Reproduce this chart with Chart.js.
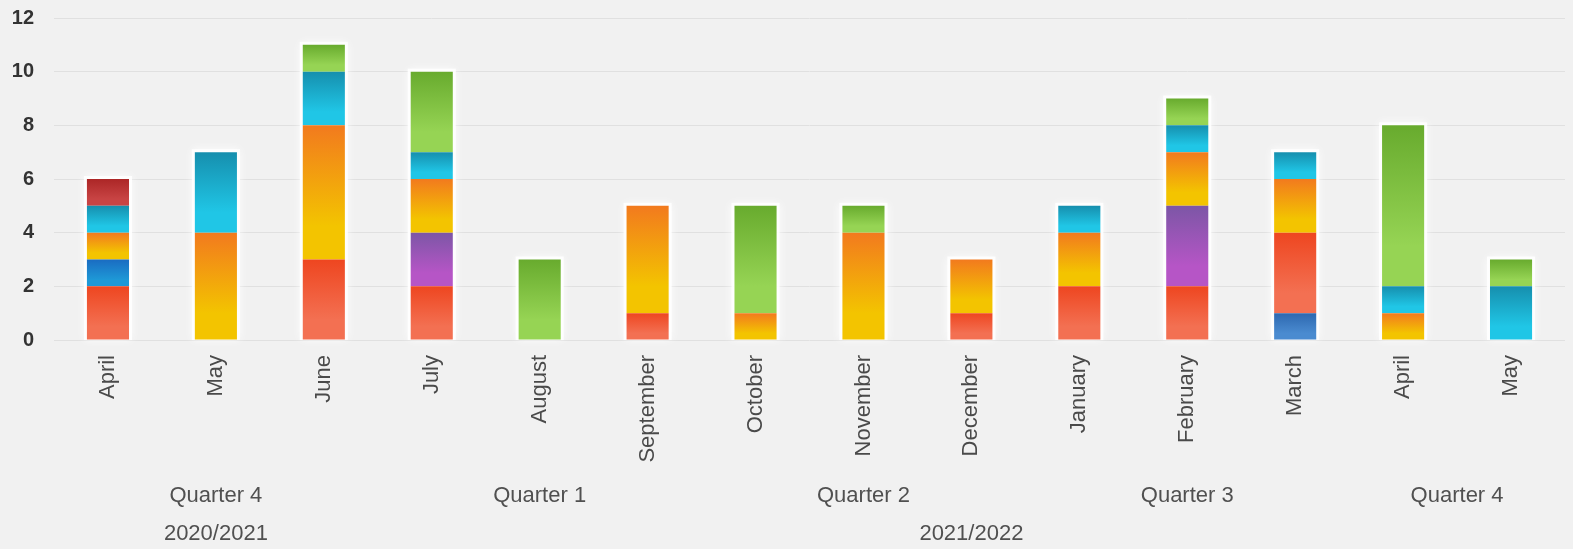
<!DOCTYPE html>
<html>
<head>
<meta charset="utf-8">
<title>Monthly totals</title>
<script src="https://cdn.jsdelivr.net/npm/chart.js@4.4.0/dist/chart.umd.min.js"></script>
<style>
    html, body { margin: 0; padding: 0; background: #f1f1f1; }
    #wrap { position: relative; width: 1573px; height: 549px; }
</style>
</head>
<body>
<div id="wrap"><canvas id="monthChart"></canvas></div>
<script>
// Categories
const months = ['April', 'May', 'June', 'July', 'August', 'September', 'October',
    'November', 'December', 'January', 'February', 'March', 'April', 'May'];
const monthQuarter = ['Quarter 4', 'Quarter 4', 'Quarter 4', 'Quarter 1', 'Quarter 1', 'Quarter 1',
    'Quarter 2', 'Quarter 2', 'Quarter 2', 'Quarter 3', 'Quarter 3', 'Quarter 3', 'Quarter 4', 'Quarter 4'];
const monthYear = ['2020/2021', '2020/2021', '2020/2021', '2021/2022', '2021/2022', '2021/2022', '2021/2022',
    '2021/2022', '2021/2022', '2021/2022', '2021/2022', '2021/2022', '2021/2022', '2021/2022'];

// Series values, bottom of the stack first
const steelBlueValues = [0, 0, 0, 0, 0, 0, 0, 0, 0, 0, 0, 1, 0, 0];
const redValues       = [2, 0, 3, 2, 0, 1, 0, 0, 1, 2, 2, 3, 0, 0];
const blueValues      = [1, 0, 0, 0, 0, 0, 0, 0, 0, 0, 0, 0, 0, 0];
const purpleValues    = [0, 0, 0, 2, 0, 0, 0, 0, 0, 0, 3, 0, 0, 0];
const orangeValues    = [1, 4, 5, 2, 0, 4, 1, 4, 2, 2, 2, 2, 1, 0];
const cyanValues      = [1, 3, 2, 1, 0, 0, 0, 0, 0, 1, 1, 1, 1, 2];
const greenValues     = [0, 0, 1, 3, 3, 0, 4, 1, 0, 0, 1, 0, 6, 1];
const darkRedValues   = [1, 0, 0, 0, 0, 0, 0, 0, 0, 0, 0, 0, 0, 0];

// Y axis ticks
const yTicks = [0, 2, 4, 6, 8, 10, 12];

(function() {
    'use strict';

    Chart.defaults.font.family = '"Liberation Sans", Arial, sans-serif';

    // gradient pairs (top, bottom) for each series
    const series = [
        { values: steelBlueValues, top: '#2d68b0', bottom: '#4a8bd0' },
        { values: redValues,       top: '#ee4620', bottom: '#f37052' },
        { values: blueValues,      top: '#1a6cc2', bottom: '#1e98d6' },
        { values: purpleValues,    top: '#7c56a6', bottom: '#b655c6' },
        { values: orangeValues,    top: '#f27a1e', bottom: '#f3c400' },
        { values: cyanValues,      top: '#168fae', bottom: '#20c6e6' },
        { values: greenValues,     top: '#68ab2e', bottom: '#96d454' },
        { values: darkRedValues,   top: '#ac2626', bottom: '#c84444' }
    ];

    // Group consecutive months sharing a label -> centre index + label
    function groupCentres(labels) {
        const groups = [];
        let start = 0;
        for (let i = 1; i <= labels.length; i++) {
            if (i === labels.length || labels[i] !== labels[start]) {
                groups.push({ value: (start + i - 1) / 2, label: labels[start] });
                start = i;
            }
        }
        return groups;
    }

    const quarterGroups = groupCentres(monthQuarter);
    const yearGroups = groupCentres(monthYear);

    // Vertical gradient for one stacked segment
    function segmentFill(context) {
        const chart = context.chart;
        const s = series[context.datasetIndex];
        const i = context.dataIndex;
        const yScale = chart.scales.y;
        if (!chart.chartArea || !yScale) return s.bottom;

        let start = 0;
        for (let k = 0; k < context.datasetIndex; k++) start += series[k].values[i];
        const end = start + s.values[i];
        const y0 = yScale.getPixelForValue(start);
        const y1 = yScale.getPixelForValue(end);
        if (!isFinite(y0) || !isFinite(y1) || y0 === y1) return s.bottom;

        const g = chart.ctx.createLinearGradient(0, y1, 0, y0);
        g.addColorStop(0, s.top);
        g.addColorStop(0.75, s.bottom);
        g.addColorStop(1, s.bottom);
        return g;
    }

    // Soft white halo behind each stacked column
    const haloPlugin = {
        id: 'halo',
        beforeDatasetsDraw(chart) {
            const ctx = chart.ctx;
            const yScale = chart.scales.y;
            const meta = chart.getDatasetMeta(0);
            ctx.save();
            ctx.shadowColor = 'rgba(255,255,255,1)';
            ctx.shadowBlur = 9;
            ctx.fillStyle = 'rgba(255,255,255,0.85)';
            months.forEach(function(m, i) {
                let total = 0;
                series.forEach(function(s) { total += s.values[i]; });
                const bar = meta.data[i];
                if (!bar || !total) return;
                const top = yScale.getPixelForValue(total);
                const base = yScale.getPixelForValue(0);
                ctx.fillRect(bar.x - bar.width / 2 - 3, top - 3, bar.width + 6, base - top + 3);
            });
            ctx.restore();
        }
    };

    // Extra bottom axis that puts one label under the middle of each month group
    function groupAxis(groups, weight, height, padding) {
        return {
            type: 'linear',
            position: 'bottom',
            weight: weight,
            offset: false, // bar charts turn offset on for x axes; not wanted here
            min: -0.5,
            max: months.length - 0.5,
            grid: { display: false, drawTicks: false },
            border: { display: false },
            afterBuildTicks: function(scale) {
                scale.ticks = groups.map(function(g) { return { value: g.value }; });
            },
            afterFit: function(scale) { scale.height = height; },
            ticks: {
                autoSkip: false,
                maxRotation: 0,
                padding: padding,
                color: '#505050',
                font: { size: 22 },
                callback: function(value) {
                    const g = groups.find(function(x) { return x.value === value; });
                    return g ? g.label : '';
                }
            }
        };
    }

    const ctx = document.getElementById('monthChart').getContext('2d');
    const chart = new Chart(ctx, {
        type: 'bar',
        data: {
            labels: months,
            datasets: series.map(function(s) {
                return {
                    data: s.values,
                    xAxisID: 'x',
                    yAxisID: 'y',
                    backgroundColor: segmentFill,
                    borderWidth: 0,
                    categoryPercentage: 1,
                    barPercentage: 0.39
                };
            })
        },
        options: {
            responsive: true,
            maintainAspectRatio: false,
            animation: false,
            layout: { padding: { top: 18, right: 8, left: 0, bottom: 0 } },
            plugins: {
                legend: { display: false },
                tooltip: { enabled: false }
            },
            scales: {
                x: {
                    stacked: true,
                    weight: 0,
                    grid: { display: false, drawTicks: false },
                    border: { display: false },
                    afterFit: function(scale) { scale.height = 125; },
                    ticks: {
                        autoSkip: false,
                        minRotation: 90,
                        maxRotation: 90,
                        padding: 15,
                        color: '#4a4a4a',
                        font: { size: 22 }
                    }
                },
                quarter: groupAxis(quarterGroups, 1, 44, 18),
                year: groupAxis(yearGroups, 2, 40, 12),
                y: {
                    stacked: true,
                    min: 0,
                    max: 12,
                    afterBuildTicks: function(scale) {
                        scale.ticks = yTicks.map(function(v) { return { value: v }; });
                    },
                    afterFit: function(scale) { scale.width = 54; },
                    // invisible tick marks push the labels left; ticks.padding would also pad the top
                    grid: { color: '#e0e0e0', drawTicks: true, tickLength: 18, tickColor: 'rgba(0,0,0,0)' },
                    border: { display: false },
                    ticks: {
                        padding: 2,
                        color: '#333333',
                        font: { size: 20, weight: 'bold' }
                    }
                }
            }
        },
        plugins: [haloPlugin]
    });

    // second pass so the gradients see the final scale pixels
    chart.update();
})();
</script>
</body>
</html>
